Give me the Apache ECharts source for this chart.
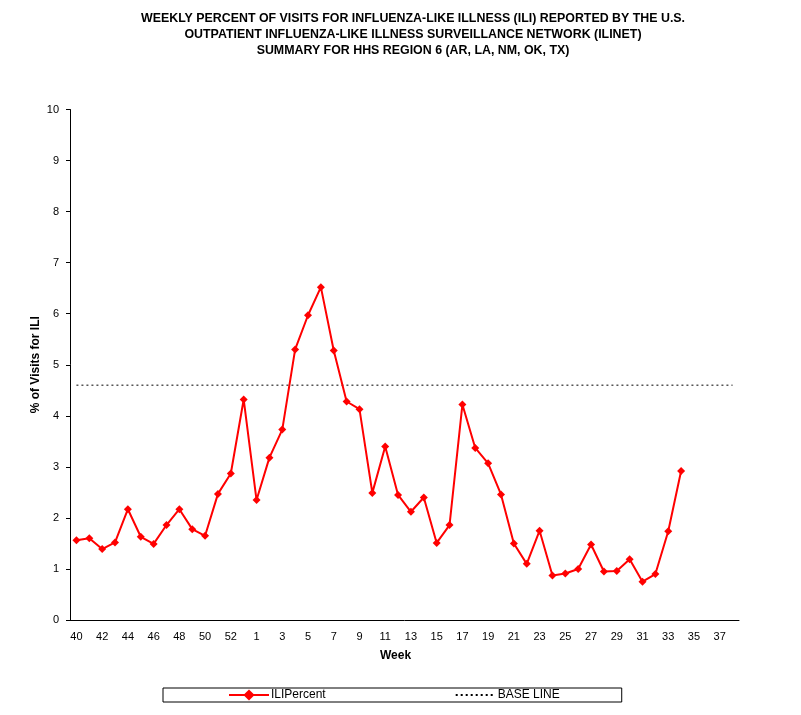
<!DOCTYPE html>
<html>
<head>
    <meta charset="UTF-8">
    <title>ILI Region 6</title>
    <script src="https://cdn.jsdelivr.net/npm/echarts@6/dist/echarts.min.js"></script>
    <style>
        body { margin: 0; padding: 0; background: #fff; }
        #chart { width: 801px; height: 715px; }
    </style>
</head>
<body>
<div id="chart"></div>
<script>
    // week numbers of the season (2008 had a week 53)
    var weeks = ['40', '41', '42', '43', '44', '45', '46', '47', '48', '49', '50', '51', '52', '53',
        '1', '2', '3', '4', '5', '6', '7', '8', '9', '10', '11', '12', '13', '14', '15', '16', '17', '18', '19',
        '20', '21', '22', '23', '24', '25', '26', '27', '28', '29', '30', '31', '32', '33', '34', '35', '36', '37', '38'];

    // % of visits for ILI (no data after week 34)
    var iliPercent = [1.56, 1.60, 1.39, 1.52, 2.17, 1.63, 1.49, 1.86, 2.17, 1.78, 1.65, 2.47, 2.87, 4.32,
        2.35, 3.18, 3.73, 5.30, 5.97, 6.52, 5.28, 4.28, 4.13, 2.49, 3.40, 2.45, 2.12, 2.40, 1.51, 1.86, 4.22, 3.37, 3.07,
        2.46, 1.50, 1.10, 1.75, 0.87, 0.91, 1.00, 1.48, 0.95, 0.96, 1.19, 0.75, 0.90, 1.74, 2.92, null, null, null, null];

    var baseLine = 4.6;
    var yTicks = [0, 10, 1]; // min, max, step

    var font = 'Liberation Sans';
    var chart = echarts.init(document.getElementById('chart'), null, {renderer: 'canvas'});

    var option = {
        animation: false,
        backgroundColor: '#fff',
        title: {
            text: 'WEEKLY PERCENT OF VISITS FOR INFLUENZA-LIKE ILLNESS (ILI) REPORTED BY THE U.S.\n' +
                'OUTPATIENT INFLUENZA-LIKE ILLNESS SURVEILLANCE NETWORK (ILINET)\n' +
                'SUMMARY FOR HHS REGION 6 (AR, LA, NM, OK, TX)',
            left: 408,
            textAlign: 'center',
            top: 6,
            textStyle: {
                fontFamily: font,
                fontWeight: 'bold',
                fontSize: 12.4,
                lineHeight: 16,
                color: '#000'
            }
        },
        legend: {
            left: 163,
            top: 688,
            padding: [1, 62, 1, 65],
            borderColor: '#000',
            borderWidth: 1,
            itemGap: 129,
            itemWidth: 40,
            itemHeight: 14,
            textStyle: {fontFamily: font, fontSize: 12, color: '#000', padding: [0, 0, 0, -3]},
            data: [
                {name: 'ILIPercent'},
                {name: 'BASE LINE', itemStyle: {opacity: 0}}
            ]
        },
        grid: {
            left: 70,
            right: 62,
            top: 109.5,
            bottom: 95
        },
        xAxis: {
            type: 'category',
            data: weeks,
            boundaryGap: true,
            name: 'Week',
            nameLocation: 'middle',
            nameGap: 30,
            nameTextStyle: {fontFamily: font, fontWeight: 'bold', fontSize: 12, color: '#000', padding: [0, 18, 0, 0]},
            axisLine: {lineStyle: {color: '#000', width: 1}},
            axisTick: {interval: 0, length: 4, lineStyle: {color: '#000'}},
            axisLabel: {interval: 1, fontFamily: font, fontSize: 11, color: '#000', margin: 11},
            splitLine: {show: false}
        },
        yAxis: {
            type: 'value',
            min: yTicks[0],
            max: yTicks[1],
            interval: yTicks[2],
            name: '% of Visits for ILI',
            nameLocation: 'middle',
            nameGap: 28,
            nameMoveOverlap: false,
            nameTextStyle: {fontFamily: font, fontWeight: 'bold', fontSize: 12, color: '#000'},
            axisLine: {show: true, lineStyle: {color: '#000', width: 1}},
            axisTick: {show: true, length: 4, lineStyle: {color: '#000'}},
            axisLabel: {fontFamily: font, fontSize: 11, color: '#000', margin: 11},
            splitLine: {show: false}
        },
        series: [
            {
                name: 'ILIPercent',
                type: 'line',
                data: iliPercent,
                symbol: 'diamond',
                symbolSize: 8,
                connectNulls: false,
                lineStyle: {color: '#ff0000', width: 2},
                itemStyle: {color: '#ff0000'},
                z: 3
            },
            {
                name: 'BASE LINE',
                type: 'line',
                data: [[weeks[0], baseLine], [weeks[weeks.length - 1], baseLine]],
                symbol: 'none',
                lineStyle: {color: '#000', width: 1, type: [2, 3]},
                itemStyle: {color: '#000'},
                z: 2
            }
        ]
    };
    chart.setOption(option);
</script>
</body>
</html>
